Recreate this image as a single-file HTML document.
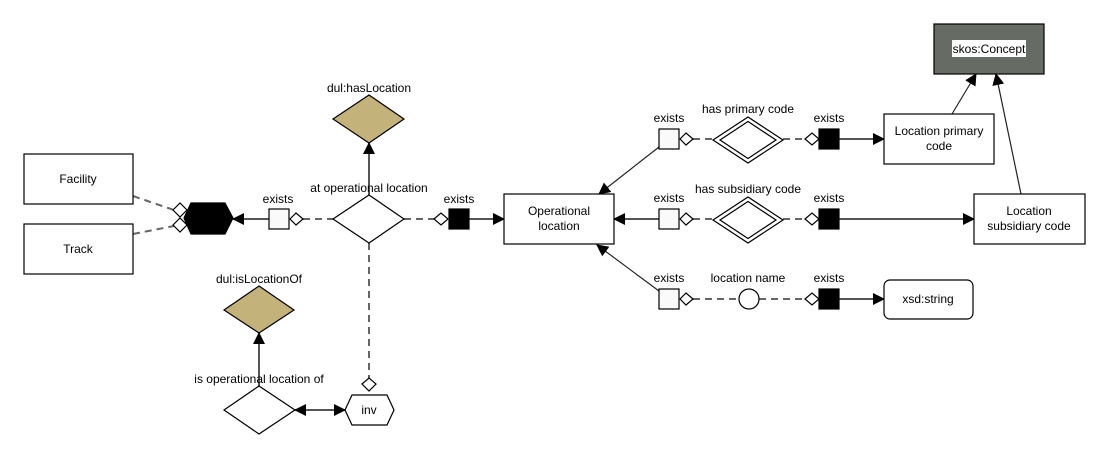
<!DOCTYPE html>
<html><head><meta charset="utf-8"><style>
html,body{margin:0;padding:0;background:#fff;}
svg{display:block;font-family:"Liberation Sans",sans-serif;font-size:12px;}
</style></head><body>
<svg width="1108" height="458" viewBox="0 0 1108 458" xmlns="http://www.w3.org/2000/svg">
<defs>
<marker id="a" markerWidth="12" markerHeight="12" refX="11" refY="6" orient="auto" markerUnits="userSpaceOnUse"><path d="M0,0 L12,6 L0,12 z" fill="#000"/></marker>
</defs>
<rect width="1108" height="458" fill="#fff"/>
<g fill="none" stroke="#666" stroke-width="2" stroke-dasharray="7,5">
<line x1="133" y1="196" x2="174" y2="210"/>
<line x1="133" y1="234" x2="174" y2="226"/>
<line x1="303" y1="219" x2="333" y2="219"/>
<line x1="404" y1="219" x2="434" y2="219"/>
<line x1="369" y1="243" x2="369" y2="378"/>
<line x1="693" y1="139" x2="714" y2="139"/>
<line x1="783" y1="139" x2="805" y2="139"/>
<line x1="693" y1="219" x2="714" y2="219"/>
<line x1="783" y1="219" x2="805" y2="219"/>
<line x1="693" y1="299" x2="739" y2="299"/>
<line x1="759" y1="299" x2="805" y2="299"/>
</g>
<g fill="none" stroke="#555" stroke-width="2">
<line x1="269" y1="219" x2="233" y2="219" marker-end="url(#a)"/>
<line x1="469" y1="219" x2="504" y2="219" marker-end="url(#a)"/>
<line x1="369" y1="195" x2="369" y2="143" marker-end="url(#a)"/>
<line x1="259" y1="386" x2="259" y2="333" marker-end="url(#a)"/>
<line x1="310" y1="410" x2="345" y2="410" marker-end="url(#a)"/>
<line x1="320" y1="410" x2="295" y2="410" marker-end="url(#a)"/>
<line x1="839" y1="139" x2="884" y2="139" marker-end="url(#a)"/>
<line x1="839" y1="219" x2="974" y2="219" marker-end="url(#a)"/>
<line x1="839" y1="299" x2="884" y2="299" marker-end="url(#a)"/>
<line x1="659" y1="219" x2="614" y2="219" marker-end="url(#a)"/>
</g>
<g fill="none" stroke="#222" stroke-width="1.2">
<line x1="659" y1="147" x2="599" y2="194" marker-end="url(#a)"/>
<line x1="659" y1="291" x2="597" y2="245" marker-end="url(#a)"/>
<line x1="952" y1="114" x2="976" y2="74" marker-end="url(#a)"/>
<line x1="1021" y1="194" x2="996" y2="74" marker-end="url(#a)"/>
</g>
<g stroke="#000" stroke-width="1.2">
<rect x="24" y="154" width="109" height="50" fill="#fff"/>
<rect x="24" y="224" width="109" height="50" fill="#fff"/>
<path d="M173,210 L180,203 L187,210 L180,217 z" fill="#fff"/>
<path d="M173,225 L180,218 L187,225 L180,232 z" fill="#fff"/>
<path d="M191,203 L225,203 L233,218 L225,234 L191,234 L184,218 z" fill="#000"/>
<rect x="269" y="209" width="20" height="20" fill="#fafafa"/>
<path d="M290,219 L296,213 L303,219 L296,225 z" fill="#fff"/>
<path d="M333,219 L369,195 L404,219 L369,243 z" fill="#fff"/>
<path d="M333,119 L369,95 L404,119 L369,143 z" fill="#c4b27b"/>
<path d="M434,219 L441,213 L448,219 L441,225 z" fill="#fff"/>
<rect x="449" y="209" width="20" height="20" fill="#000"/>
<rect x="504" y="194" width="110" height="50" fill="#fff"/>
<path d="M362,384 L369,378 L376,384 L369,391 z" fill="#fff"/>
<path d="M352,395 L387,395 L394,410 L387,425 L352,425 L345,410 z" fill="#fff"/>
<path d="M224,410 L259,386 L295,410 L259,434 z" fill="#fff"/>
<path d="M224,310 L259,286 L294,310 L259,333 z" fill="#c4b27b"/>
<rect x="934" y="24" width="110" height="50" fill="#666c64"/>
<rect x="884" y="114" width="110" height="50" fill="#fff"/>
<rect x="974" y="194" width="111" height="50" fill="#fff"/>
<rect x="884" y="280" width="89" height="39" rx="6" fill="#fff"/>
<!-- rows -->
<rect x="659" y="129" width="20" height="20" fill="#fafafa"/>
<path d="M680,139 L686,133 L693,139 L686,145 z" fill="#fff"/>
<path d="M713,140 L748,117 L783,140 L748,163 z" fill="#fff"/>
<path d="M720,140 L748,121.5 L776,140 L748,158.5 z" fill="none"/>
<path d="M805,139 L812,133 L819,139 L812,145 z" fill="#fff"/>
<rect x="819" y="129" width="20" height="20" fill="#000"/>
<rect x="659" y="209" width="20" height="20" fill="#fafafa"/>
<path d="M680,219 L686,213 L693,219 L686,225 z" fill="#fff"/>
<path d="M713,220 L748,197 L783,220 L748,243 z" fill="#fff"/>
<path d="M720,220 L748,201.5 L776,220 L748,238.5 z" fill="none"/>
<path d="M805,219 L812,213 L819,219 L812,225 z" fill="#fff"/>
<rect x="819" y="209" width="20" height="20" fill="#000"/>
<rect x="659" y="289" width="20" height="20" fill="#fafafa"/>
<path d="M680,299 L686,293 L693,299 L686,305 z" fill="#fff"/>
<circle cx="749" cy="299" r="10" fill="#fff"/>
<path d="M805,299 L812,293 L819,299 L812,305 z" fill="#fff"/>
<rect x="819" y="289" width="20" height="20" fill="#000"/>
</g>
<rect x="952" y="40" width="74" height="17" fill="#fff"/>
<g fill="#000" text-anchor="middle">
<text x="78" y="183">Facility</text>
<text x="78" y="253">Track</text>
<text x="278" y="203">exists</text>
<text x="369" y="192">at operational location</text>
<text x="369" y="92">dul:hasLocation</text>
<text x="459" y="203">exists</text>
<text x="559" y="215">Operational</text>
<text x="559" y="230">location</text>
<text x="259" y="283">dul:isLocationOf</text>
<text x="259" y="383">is operational location of</text>
<text x="369" y="414">inv</text>
<text x="989" y="53">skos:Concept</text>
<text x="939" y="135">Location primary</text>
<text x="939" y="150">code</text>
<text x="1029" y="215">Location</text>
<text x="1029" y="230">subsidiary code</text>
<text x="928" y="303">xsd:string</text>
<text x="669" y="122">exists</text>
<text x="748" y="113">has primary code</text>
<text x="829" y="122">exists</text>
<text x="669" y="202">exists</text>
<text x="748" y="193">has subsidiary code</text>
<text x="829" y="202">exists</text>
<text x="669" y="282">exists</text>
<text x="748" y="282">location name</text>
<text x="829" y="282">exists</text>
</g>
</svg>
</body></html>
